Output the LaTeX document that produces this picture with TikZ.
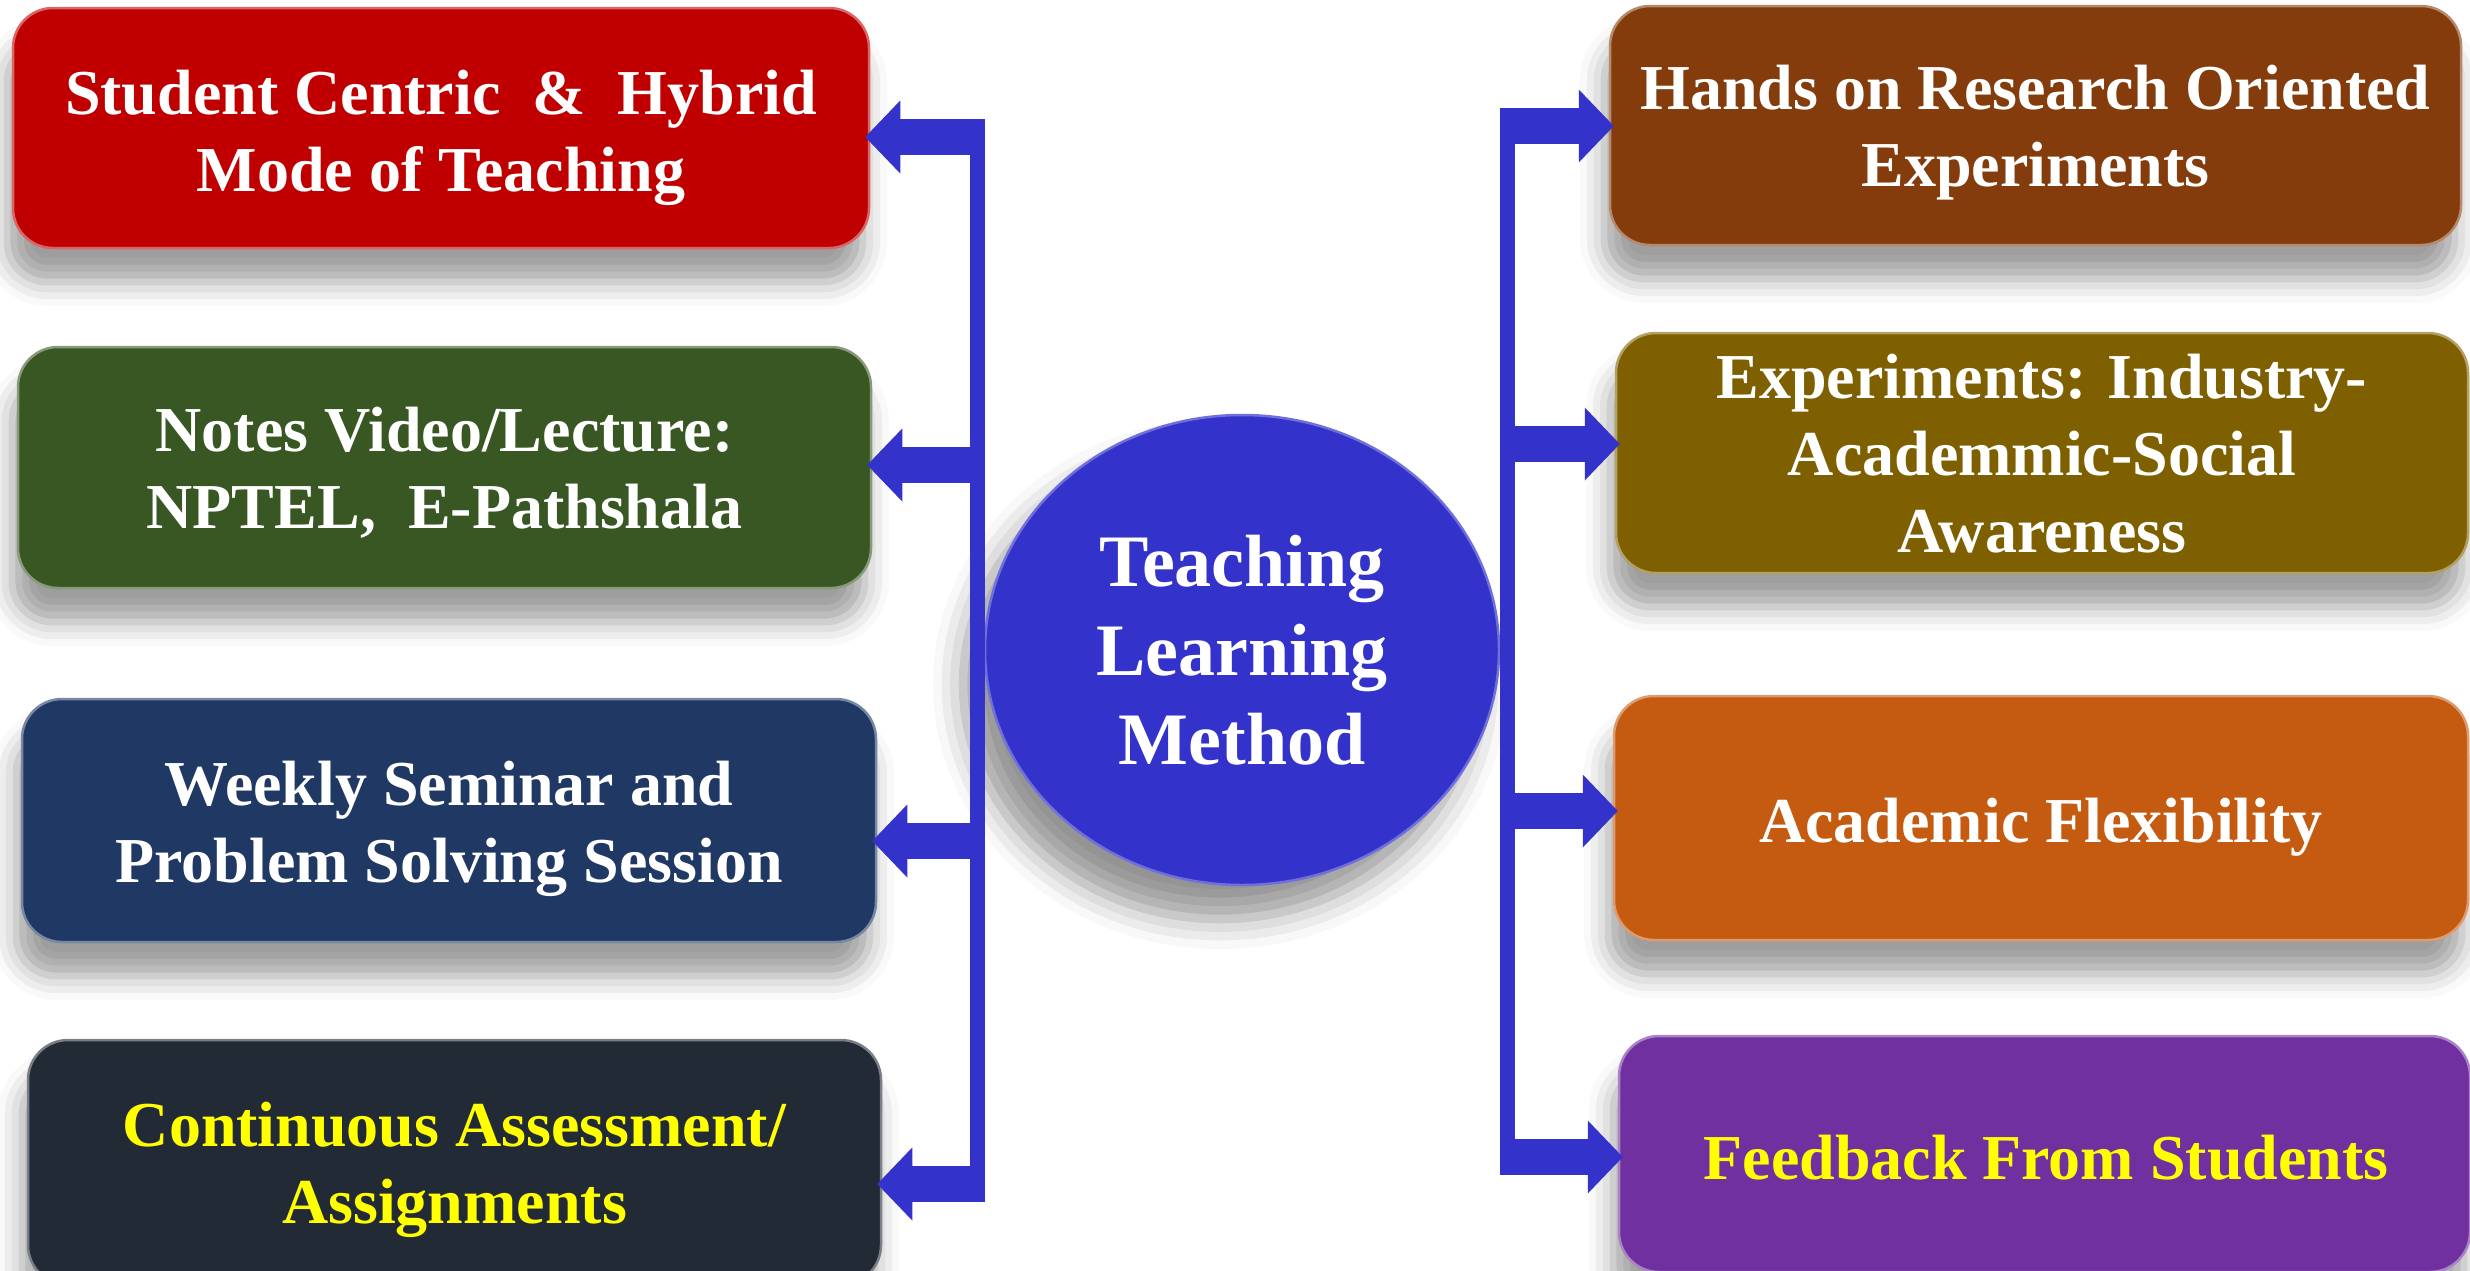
\documentclass[tikz,border=0pt]{standalone}
\usepackage{fontspec}
\setmainfont{Liberation Serif}
\usetikzlibrary{shapes.geometric,arrows.meta,shadows.blur}
\definecolor{cRed}{HTML}{C00000}
\definecolor{cGreen}{HTML}{385723}
\definecolor{cNavy}{HTML}{203864}
\definecolor{cDark}{HTML}{222A35}
\definecolor{cBrown}{HTML}{843C0C}
\definecolor{cOlive}{HTML}{7F6000}
\definecolor{cOrange}{HTML}{C55A11}
\definecolor{cPurple}{HTML}{7030A0}
\definecolor{cBlue}{HTML}{3333CC}
\definecolor{cYellow}{HTML}{FFFF00}
\begin{document}
\begin{tikzpicture}[x=1pt,y=-1pt,
  box/.style={rectangle, rounded corners=40pt, inner sep=0pt, fill=#1,
    draw=#1!60!white, line width=2.5pt,
    blur shadow={shadow xshift=-6pt, shadow yshift=-34pt, shadow blur radius=24pt, shadow opacity=38}},
  txt/.style={align=center, inner sep=0pt, text=white, font=\fontsize{64}{77}\selectfont\bfseries},
  ytxt/.style={txt, text=cYellow},
  ell/.style={ellipse, inner sep=0pt, minimum width=514pt, minimum height=470pt,
    fill=cBlue, draw=cBlue!70!white, line width=2.5pt, text=white, align=center,
    font=\fontsize{74}{89}\selectfont\bfseries,
    blur shadow={shadow xshift=-22pt, shadow yshift=-34pt, shadow blur radius=30pt, shadow opacity=42}},
  bar/.style={draw=cBlue, line width=15pt},
  arr/.style={draw=cBlue, line width=36pt,
    -{Triangle[length=35pt 0 0, width=73pt 0 0, line width=0pt 0 0]}, shorten >=-5pt}
]
\useasboundingbox (0,0) rectangle (2470,1270);

% left boxes
\node[box=cRed,    minimum width=856pt, minimum height=240pt] (r1) at (441,128) {};
\node[box=cGreen,  minimum width=853pt, minimum height=241pt] (r2) at (444.5,467.5) {};
\node[box=cNavy,   minimum width=854pt, minimum height=243pt] (r3) at (449,820.5) {};
\node[box=cDark,   minimum width=853pt, minimum height=245pt] (r4) at (454.5,1162.5) {};
% right boxes
\node[box=cBrown,  minimum width=851pt, minimum height=239pt] (b1) at (2035.5,125.5) {};
\node[box=cOlive,  minimum width=852pt, minimum height=240pt] (b2) at (2042,453) {};
\node[box=cOrange, minimum width=854pt, minimum height=244pt] (b3) at (2041,818) {};
\node[box=cPurple, minimum width=851pt, minimum height=236pt] (b4) at (2044.5,1154) {};

% texts
\node[txt]  (r1t) at (441,138)    {Student Centric~ \&~ Hybrid\\Mode of Teaching};
\node[txt]  (r2t) at (444.5,472.5) {Notes Video/Lecture:\\NPTEL,~ E-Pathshala};
\node[txt]  (r3t) at (449,829)    {Weekly Seminar and\\Problem Solving Session};
\node[ytxt] (r4t) at (454.5,1170) {Continuous Assessment/\\Assignments};
\node[txt]  (b1t) at (2035.5,133) {Hands on Research Oriented\\Experiments};
\node[txt]  (b2t) at (2042,453.5) {Experiments: Industry-\\Academmic-Social\\Awareness};
\node[txt]  (b3t) at (2041,827.5) {Academic Flexibility};
\node[ytxt] (b4t) at (2046,1157.5) {Feedback From Students};

% centre
\node[ell] (c) at (1242,650) {Teaching\\Learning\\Method};

% bars
\coordinate (lt) at (977,119);
\coordinate (lb) at (977,1202);
\coordinate (rt) at (1507,108);
\coordinate (rb) at (1507,1175);
\draw[bar] (lt) -- (lb);
\draw[bar] (rt) -- (rb);

% arrow start points on the bars
\coordinate (la1) at (977,137);
\coordinate (la2) at (977,465);
\coordinate (la3) at (977,841);
\coordinate (la4) at (977,1184);
\coordinate (ra1) at (1507,126);
\coordinate (ra2) at (1507,444);
\coordinate (ra3) at (1507,811);
\coordinate (ra4) at (1507,1157);

\draw[arr] (la1) -- (la1 -| r1.east);
\draw[arr] (la2) -- (la2 -| r2.east);
\draw[arr] (la3) -- (la3 -| r3.east);
\draw[arr] (la4) -- (la4 -| r4.east);
\draw[arr] (ra1) -- (ra1 -| b1.west);
\draw[arr] (ra2) -- (ra2 -| b2.west);
\draw[arr] (ra3) -- (ra3 -| b3.west);
\draw[arr] (ra4) -- (ra4 -| b4.west);
\end{tikzpicture}
\end{document}
